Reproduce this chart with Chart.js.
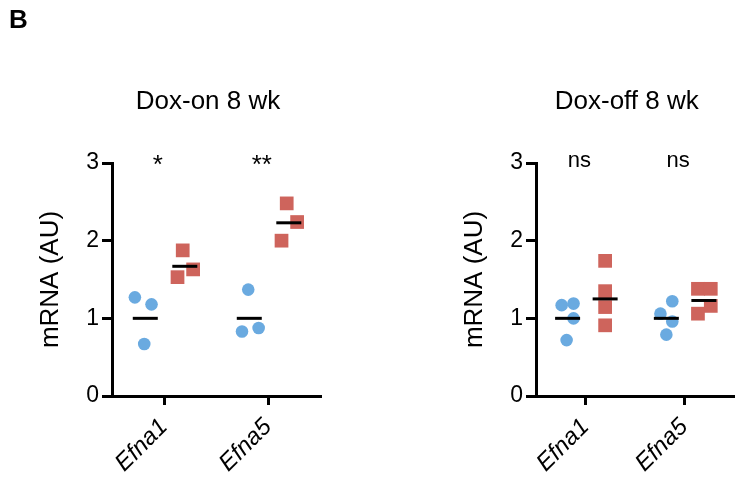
<!DOCTYPE html>
<html>
<head>
<meta charset="utf-8">
<script src="https://cdn.jsdelivr.net/npm/chart.js@4"></script>
<style>
  html, body { margin: 0; padding: 0; background: #fff; overflow: hidden; }
  #wrap { position: relative; width: 738px; height: 477px; overflow: hidden; }
  canvas { position: absolute; top: 0; }
  #left { left: 0; }
  #right { left: 369px; }
</style>
</head>
<body>
<div id="wrap">
  <canvas id="left" width="369" height="477"></canvas>
  <canvas id="right" width="380" height="477"></canvas>
</div>
<script>
// categorias e rotulos
const genes = ['Efna1', 'Efna5']
const yTicks = [0, 1, 2, 3]

// Dox-on 8 wk (valores por gene)
const onCtrl = [[1.27, 1.18, 0.67], [1.37, 0.83, 0.875]]
const onCtrlJitter = [[-0.28, -0.12, -0.19], [-0.19, -0.25, -0.09]]
const onMut = [[1.875, 1.63, 1.53], [2.48, 2.24, 2.0]]
const onMutJitter = [[0.18, 0.28, 0.13], [0.18, 0.28, 0.13]]
const onCtrlMean = [1.0, 1.0]
const onMutMean = [1.67, 2.23]
const onSig = ['*', '**']

// Dox-off 8 wk
const offCtrl = [[1.17, 1.19, 1.0, 0.72], [1.06, 1.22, 0.96, 0.79]]
const offCtrlJitter = [[-0.24, -0.12, -0.12, -0.19], [-0.24, -0.12, -0.12, -0.18]]
const offMut = [[1.74, 1.35, 1.145, 0.91], [1.38, 1.38, 1.16, 1.06]]
const offMutJitter = [[0.2, 0.2, 0.2, 0.2], [0.14, 0.27, 0.27, 0.14]]
const offCtrlMean = [1.0, 1.0]
const offMutMean = [1.25, 1.23]
const offSig = ['ns', 'ns']

const BLUE = 'rgb(106, 170, 224)'
const RED = 'rgb(206, 100, 92)'
const FONT = '"Liberation Sans", Arial, Helvetica, sans-serif'

function toPoints(vals, jit) {
    const pts = []
    vals.forEach((grp, i) => grp.forEach((v, j) => pts.push({ x: i + 1 + jit[i][j], y: v })))
    return pts
}

function makePanel(id, title, ctrl, ctrlJit, mut, mutJit, ctrlMean, mutMean, sig, padLeft, padRight, showTag) {
    const ctx = document.getElementById(id).getContext('2d')

    // desenha titulo, asteriscos e letra do painel
    const extras = {
        id: 'extras',
        afterDraw(chart) {
            const c = chart.ctx
            const xs = chart.scales.x
            const ys = chart.scales.y
            const area = chart.chartArea
            c.save()
            c.fillStyle = '#000'
            c.textAlign = 'center'
            c.textBaseline = 'alphabetic'
            c.font = '26px ' + FONT
            c.fillText(title, (area.left + area.right) / 2 - 8, 109)
            sig.forEach((s, i) => {
                const star = s.includes('*')
                c.font = (star ? '26px ' : '22px ') + FONT
                c.fillText(s, xs.getPixelForValue(i + 1 - 0.06), ys.getPixelForValue(3) + (star ? 10 : 4))
            })
            if (showTag) {
                c.textAlign = 'left'
                c.font = 'bold 26px ' + FONT
                c.fillText('B', 9, 28)
            }
            c.restore()
        }
    }

    return new Chart(ctx, {
        type: 'scatter',
        data: {
            datasets: [
                {
                    data: ctrlMean.map((m, i) => ({ x: i + 1 - 0.18, y: m })),
                    pointStyle: 'line', pointRadius: 12.5, borderWidth: 3,
                    borderColor: '#000', backgroundColor: '#000'
                },
                {
                    data: mutMean.map((m, i) => ({ x: i + 1 + 0.2, y: m })),
                    pointStyle: 'line', pointRadius: 12.5, borderWidth: 3,
                    borderColor: '#000', backgroundColor: '#000'
                },
                {
                    data: toPoints(ctrl, ctrlJit),
                    pointStyle: 'circle', pointRadius: 6.3, borderWidth: 0,
                    backgroundColor: BLUE, borderColor: BLUE
                },
                {
                    data: toPoints(mut, mutJit),
                    pointStyle: 'rect', pointRadius: 9.7, borderWidth: 0,
                    backgroundColor: RED, borderColor: RED
                }
            ]
        },
        options: {
            responsive: false,
            animation: false,
            clip: false,
            layout: { padding: { top: 163, left: padLeft, right: padRight, bottom: 0 } },
            plugins: { legend: { display: false }, tooltip: { enabled: false } },
            scales: {
                x: {
                    type: 'linear', min: 0.5, max: 2.5,
                    afterBuildTicks: (s) => { s.ticks = genes.map((g, i) => ({ value: i + 1 })) },
                    afterFit: (s) => { s.height = 81 },
                    ticks: {
                        callback: (v) => genes[v - 1],
                        minRotation: 45, maxRotation: 45,
                        color: '#000', padding: 8,
                        font: { family: FONT, size: 24, style: 'italic' }
                    },
                    grid: { drawOnChartArea: false, tickLength: 9, lineWidth: 3, color: '#000' },
                    border: { display: true, width: 3, color: '#000' }
                },
                y: {
                    min: 0, max: 3,
                    afterBuildTicks: (s) => { s.ticks = yTicks.map(v => ({ value: v })) },
                    afterFit: (s) => { s.width = 112 },
                    ticks: { color: '#000', padding: 3, font: { family: FONT, size: 23 } },
                    grid: { drawOnChartArea: false, tickLength: 10, lineWidth: 3, color: '#000' },
                    border: { display: true, width: 3, color: '#000' },
                    title: {
                        display: true, text: 'mRNA (AU)', color: '#000',
                        padding: { top: 35, bottom: 0 },
                        font: { family: FONT, size: 26 }
                    }
                }
            }
        },
        plugins: [extras]
    })
}

makePanel('left', 'Dox-on 8 wk', onCtrl, onCtrlJitter, onMut, onMutJitter, onCtrlMean, onMutMean, onSig, 0, 49, true)
makePanel('right', 'Dox-off 8 wk', offCtrl, offCtrlJitter, offMut, offMutJitter, offCtrlMean, offMutMean, offSig, 55, 7, false)
</script>
</body>
</html>
